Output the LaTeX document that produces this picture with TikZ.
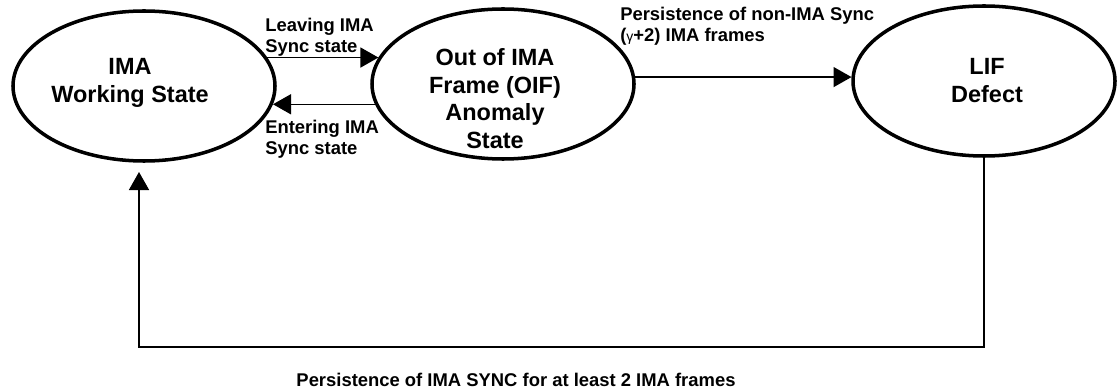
\documentclass[tikz,border=0pt]{standalone}
\usepackage{fontspec}
\setmainfont{Liberation Sans}
\usetikzlibrary{shapes.geometric,arrows.meta}
\tikzset{
	state/.style={draw,ellipse,line width=2.5pt,minimum width=65.5mm,minimum height=37.5mm,inner sep=0pt},
	statetext/.style={anchor=north,align=center,inner sep=0pt,font=\fontsize{16.7}{19.8}\selectfont\bfseries},
	edgetext/.style={anchor=north west,align=left,inner sep=0pt,font=\fontsize{13.1}{15}\selectfont\bfseries},
	flow/.style={line width=1.1pt,-{Triangle[length=4.5mm,width=5mm]}}
}

\begin{document}
\begin{tikzpicture}[x=0.25mm,y=-0.25mm]
			\useasboundingbox (0,0) rectangle (1120,390);
			\node[state] (ima) at (144,86) {};
			\node[state] (oif) at (503,84) {};
			\node[state] (lif) at (984,81) {};
			\node[statetext] (imatext) at (130,58) {IMA\\Working State};
			\node[statetext] (oiftext) at (495,48) {Out of IMA\\Frame (OIF)\\Anomaly\\State};
			\node[statetext] (liftext) at (987,58) {LIF\\Defect};
			\draw[flow] (ima.13) -- (ima.13 -| oif.168);
			\draw[flow] (oif.-171) -- (oif.-171 -| ima.-8);
			\draw[flow] (oif.3) -- (oif.3 -| lif.178);
			\coordinate (corner) at (986,347);
			\coordinate (ret) at (139,172);
			\draw[flow] (lif.south) -- (lif.south |- corner) -| (ret);
			\node[edgetext] (leave) at (265,18) {Leaving IMA\\Sync state};
			\node[edgetext] (enter) at (265,120) {Entering IMA\\Sync state};
			\node[edgetext] (nonsync) at (620,7) {Persistence of non-IMA Sync\\({\mdseries\fontsize{10}{12}\selectfont γ}+2) IMA frames};
			\node[edgetext,anchor=center] (sync) at (516,380) {Persistence of IMA SYNC for at least 2 IMA frames};
		\end{tikzpicture}
\end{document}
